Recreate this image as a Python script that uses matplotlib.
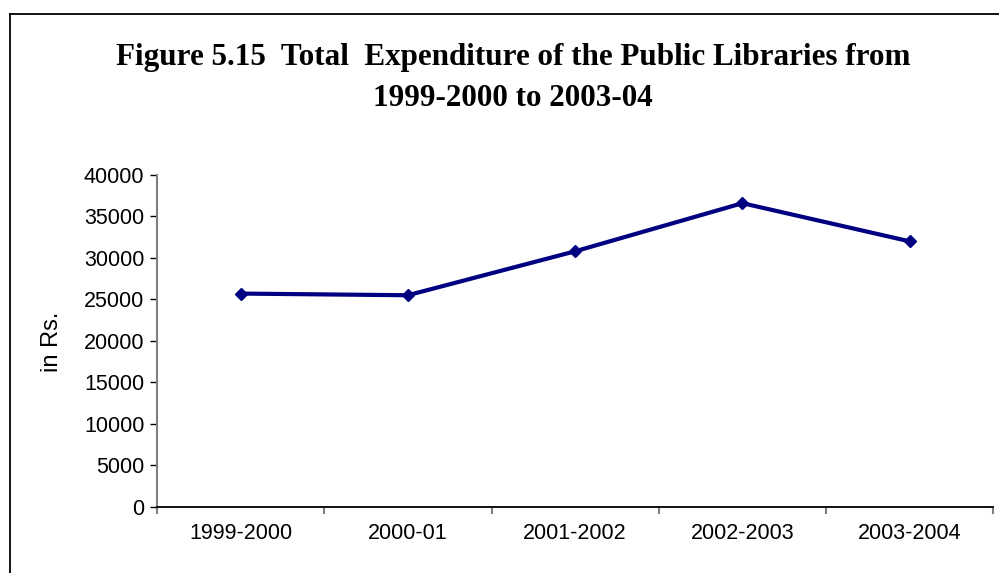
import matplotlib
matplotlib.use("Agg")
import matplotlib.pyplot as plt
from matplotlib.lines import Line2D
import numpy as np

categories = ["1999-2000", "2000-01", "2001-2002", "2002-2003", "2003-2004"]
expenditure = [25700, 25500, 30800, 36600, 32000]
yticks = [0, 5000, 10000, 15000, 20000, 25000, 30000, 35000, 40000]

W, H = 999, 573
fig = plt.figure(figsize=(W / 100, H / 100), dpi=100)
ax = fig.add_axes([157 / W, 1 - 506.7 / H, (993.3 - 157) / W, (506.7 - 175) / H])

x = np.arange(len(categories))
ax.plot(x, expenditure, color="#000080", linewidth=3, marker="D", markersize=6,
        markerfacecolor="#000080", markeredgecolor="#000080", clip_on=False)

ax.set_xlim(-0.5, len(categories) - 0.5)
ax.set_ylim(0, 40000)
ax.set_yticks(yticks)
ax.set_yticklabels([str(v) for v in yticks], fontfamily="Liberation Sans", fontsize=15.5)
ax.set_xticks(x)
ax.set_xticklabels(categories, fontfamily="Liberation Sans", fontsize=15.5)
ax.tick_params(axis="x", length=0, pad=12)
ax.set_xticks(np.arange(len(categories) + 1) - 0.5, minor=True)
ax.tick_params(axis="x", which="minor", length=5, direction="out", color="#808080", width=1.5)
ax.tick_params(axis="y", length=5, direction="out", color="black", width=1, pad=4)

for s in ["top", "right"]:
    ax.spines[s].set_visible(False)
ax.spines["left"].set_color("#808080")
ax.spines["left"].set_linewidth(1.5)
ax.spines["bottom"].set_color("black")
ax.spines["bottom"].set_linewidth(1.3)

ax.set_ylabel("in Rs.", fontfamily="Liberation Sans", fontsize=17)
ax.yaxis.set_label_coords((63 - 157) / (993.3 - 157), (506.7 - 342) / (506.7 - 175))

fig.text(513 / W, 1 - 57 / H, "Figure 5.15  Total  Expenditure of the Public Libraries from",
         ha="center", va="center", fontfamily="Liberation Serif", fontweight="bold", fontsize=22.4)
fig.text(513 / W, 1 - 99 / H, "1999-2000 to 2003-04",
         ha="center", va="center", fontfamily="Liberation Serif", fontweight="bold", fontsize=22.4)

# outer chart border (left and top edges visible)
fig.add_artist(Line2D([9.5 / W, 9.5 / W], [0, 1 - 13.5 / H], transform=fig.transFigure,
                      color="black", linewidth=1.3))
fig.add_artist(Line2D([9.5 / W, 1], [1 - 13.5 / H, 1 - 13.5 / H], transform=fig.transFigure,
                      color="black", linewidth=1.3))

fig.savefig("out.png", dpi=100)
